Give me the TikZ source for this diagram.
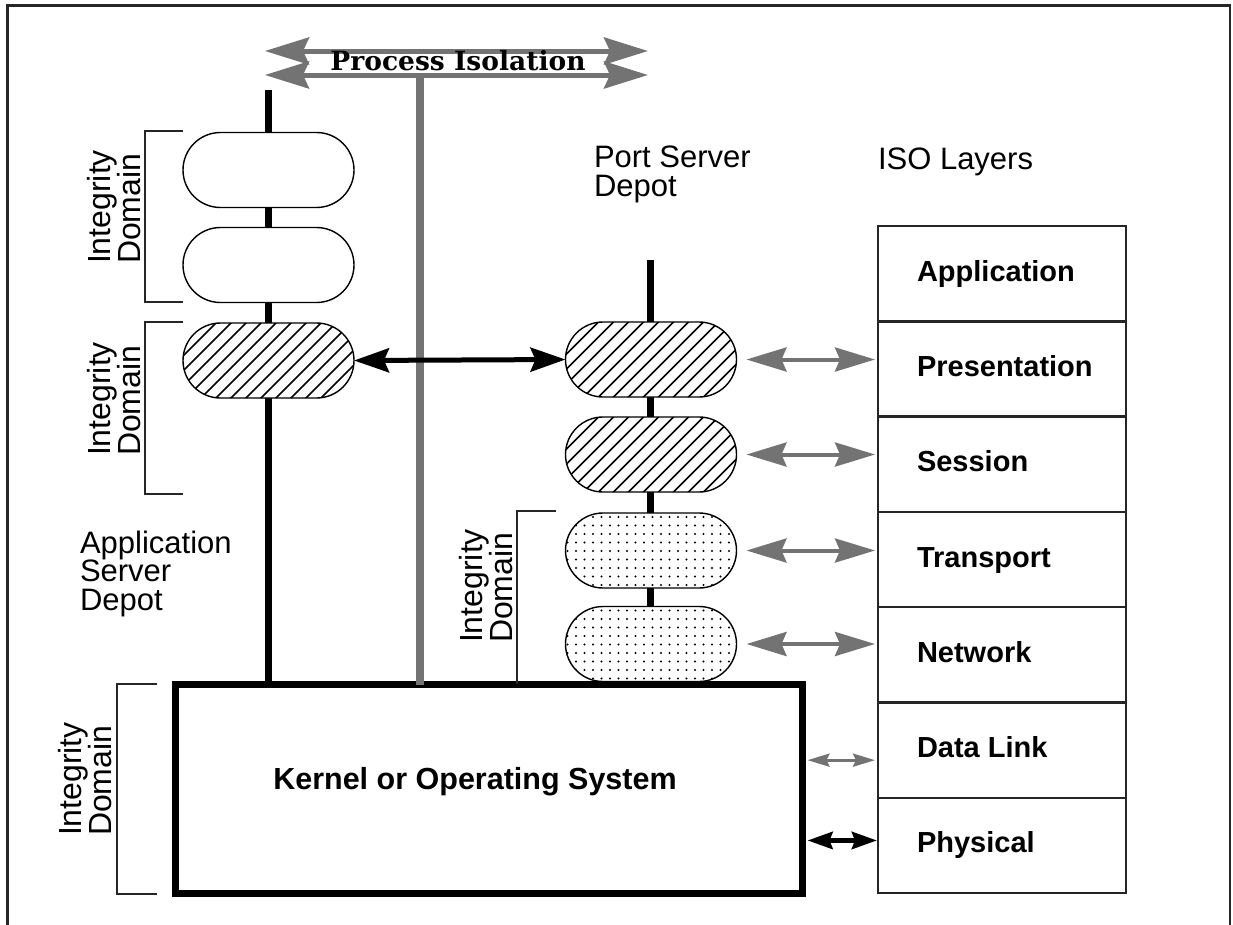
\documentclass[tikz,border=0pt]{standalone}
\usepackage{fontspec}
\setmainfont{Liberation Sans}
\newfontfamily\isofont{DejaVu Serif}
\usetikzlibrary{arrows.meta,shapes.misc}
\definecolor{dither}{gray}{0.45}
\definecolor{framegray}{gray}{0.15}

\begin{document}
\begin{tikzpicture}[x=1pt,y=-1pt,
  every node/.style={inner sep=0pt, outer sep=0pt},
  frame/.style={draw=framegray, line width=2.2pt},
  bracket/.style={draw=framegray, line width=1.5pt},
  stem/.style={draw=black, line width=7pt},
  capsule/.style={draw=black, line width=1.4pt, fill=white, rounded rectangle,
                  minimum width=171pt, minimum height=75pt},
  hatchfill/.style={path picture={
      \foreach \k in {-11,...,11}
        \draw[black, line width=1.6pt] ([xshift=\k*15pt]path picture bounding box.center)
          ++(-60pt,-60pt) -- ++(120pt,120pt);}},
  dotfill/.style={path picture={
      \foreach \i in {0,...,20}
        \foreach \j in {0,...,9}
          \fill[black] ([shift={(\i*8.5pt+2pt,\j*8.5pt+3pt)}]path picture bounding box.south west)
            circle[radius=1.1pt];}},
  kernelbox/.style={draw=black, line width=7pt, minimum width=627pt, minimum height=209pt},
  isobox/.style={draw=framegray, line width=2.4pt, minimum width=248pt, minimum height=95.3pt},
  isotext/.style={font=\bfseries\fontsize{29}{30}\selectfont, anchor=west,
                  text height=21pt, text depth=6pt},
  kerneltext/.style={font=\bfseries\fontsize{30.5}{32}\selectfont, text height=22pt, text depth=6.5pt},
  depotlabel/.style={font=\fontsize{31}{28.5}\selectfont, align=left, anchor=north west},
  domainlabel/.style={font=\fontsize{32}{30}\selectfont, align=left, rotate=90},
  isolabel/.style={font=\isofont\bfseries\fontsize{26.5}{28}\selectfont},
  isolationarrow/.style={draw=dither, line width=5pt,
      arrows={Stealth[length=44pt,width=27pt,inset=6pt]-Stealth[length=44pt,width=27pt,inset=6pt]}},
  layerarrow/.style={draw=dither, line width=4pt, shorten <=10pt, shorten >=3pt,
      arrows={Stealth[length=40pt,width=24pt,inset=5pt]-Stealth[length=40pt,width=24pt,inset=5pt]}},
  peerarrow/.style={draw=black, line width=5pt,
      arrows={Stealth[length=35pt,width=24pt,inset=5pt]-Stealth[length=35pt,width=24pt,inset=5pt]}},
  linkarrow/.style={draw=dither, line width=3pt, shorten <=5pt, shorten >=3pt,
      arrows={Stealth[length=22pt,width=13pt,inset=3pt]-Stealth[length=22pt,width=13pt,inset=3pt]}},
  wirearrow/.style={draw=black, line width=5pt, shorten <=5pt, shorten >=1pt,
      arrows={Stealth[length=25pt,width=17pt,inset=3pt]-Stealth[length=25pt,width=17pt,inset=3pt]}}
]
\useasboundingbox (0,0) rectangle (1233,924);

% outer frame (open at the bottom)
\draw[frame] (7.5,940) -- (7.5,5.5) -- (1230,5.5) -- (1230,940);

% kernel
\node[kernelbox] (kernel) at (489,789) {};
\node[kerneltext] (kernellabel) at (475,782) {Kernel or Operating System};

% process isolation arrows and the partition line
\coordinate (isoL1) at (265,51);
\coordinate (isoR1) at (648,51);
\coordinate (isoL2) at (265,75);
\coordinate (isoR2) at (648,75);
\coordinate (isoStem) at (420,76);
\draw[isolationarrow] (isoL1) -- (isoR1);
\draw[isolationarrow] (isoL2) -- (isoR2);
\node[isolabel] (isolation) at (458,61) {Process Isolation};
\draw[draw=dither, line width=8pt] (isoStem) -- (isoStem |- kernel.north);

% depot stems
\coordinate (lstem) at (268,90);
\coordinate (rstem) at (650,260);
\draw[stem] (lstem) -- (lstem |- kernel.north);
\draw[stem] (rstem) -- (rstem |- kernel.north);

% application server depot
\node[capsule] (a1) at (268.5,170) {};
\node[capsule] (a2) at (268.5,265) {};
\node[capsule, hatchfill] (a3) at (268.5,360.5) {};

% port server depot
\node[capsule, hatchfill] (p1) at (651,359.5) {};
\node[capsule, hatchfill] (p2) at (651,454.5) {};
\node[capsule, dotfill] (p3) at (651,550.5) {};
\node[capsule, dotfill] (p4) at (651,644) {};

% ISO layer stack
\foreach \i/\name in {1/Application,2/Presentation,3/Session,4/Transport,5/Network,6/Data Link,7/Physical} {
  \node[isobox] (iso\i) at (1002,{226+95.3*\i-47.65}) {};
  \node[isotext] (isot\i) at ([xshift=39pt]iso\i.west) {\name};
}

% headings
\node[depotlabel] (psd) at (594,146) {Port Server\\Depot};
\node[depotlabel] (isoh) at (878,148) {ISO Layers};
\node[depotlabel] (asd) at (80,531) {Application\\Server\\Depot};

% integrity domain brackets
\draw[bracket] (183,131) -- (145,131) -- (145,302) -- (183,302);
\draw[bracket] (183,322) -- (145,322) -- (145,494) -- (183,494);
\draw[bracket] (157,684) -- (117,684) -- (117,894) -- (157,894);
\draw[bracket] (556,511) -- (517,511) -- (517,684);
\node[domainlabel] (dom1) at (114,207) {Integrity\\Domain};
\node[domainlabel] (dom2) at (114,399) {Integrity\\Domain};
\node[domainlabel] (dom3) at (85,779) {Integrity\\Domain};
\node[domainlabel] (dom4) at (486,586) {Integrity\\Domain};

% peer link between the depots
\draw[peerarrow] (a3.east) -- (p1.west);

% capsule to layer correspondences
\draw[layerarrow] (p1.east) -- (p1.east -| iso2.west);
\draw[layerarrow] (p2.east) -- (p2.east -| iso3.west);
\draw[layerarrow] (p3.east) -- (p3.east -| iso4.west);
\draw[layerarrow] (p4.east) -- (p4.east -| iso5.west);

% kernel to lower layers
\coordinate (dl) at ([yshift=-10pt]iso6.west);
\coordinate (ph) at ([yshift=5pt]iso7.west);
\draw[linkarrow] (dl -| kernel.east) -- (dl);
\draw[wirearrow] (ph -| kernel.east) -- (ph);
\end{tikzpicture}
\end{document}
